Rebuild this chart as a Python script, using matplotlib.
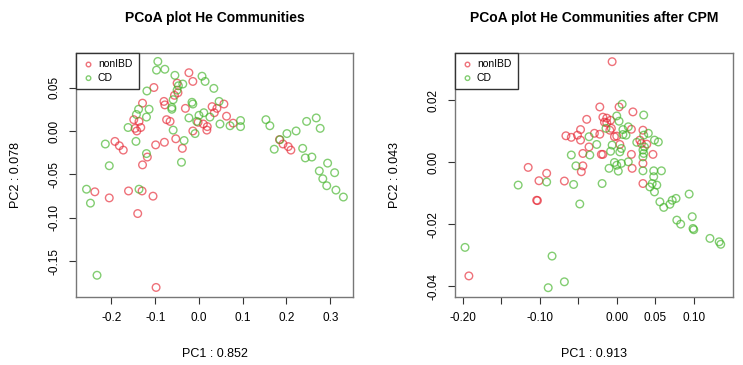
import numpy as np
import matplotlib.pyplot as plt

plt.rcParams['font.family'] = ['Liberation Sans', 'DejaVu Sans']

# PCoA coordinates, raw abundances
raw_nonibd_x = [-0.023, -0.014, -0.050, -0.103, -0.048, -0.056, -0.129, -0.080, -0.078, -0.031,
                -0.149, -0.137, -0.074, -0.066, 0.030, 0.041, 0.057, 0.035, 0.063, 0.078,
                -0.002, 0.010, 0.019, 0.018, -0.146, -0.133, -0.142, -0.014, -0.192, -0.182,
                -0.173, -0.099, -0.079, -0.053, -0.038, -0.118, -0.129, -0.238, -0.205, -0.161,
                -0.130, -0.105, -0.140, -0.098, 0.184, 0.192, 0.204, 0.210]
raw_nonibd_y = [0.067, 0.057, 0.055, 0.050, 0.044, 0.041, 0.032, 0.034, 0.030, 0.026,
                0.013, 0.011, 0.013, 0.011, 0.028, 0.026, 0.031, 0.021, 0.017, 0.009,
                0.010, 0.008, 0.005, 0.001, 0.003, 0.004, 0.000, 0.000, -0.012, -0.017,
                -0.022, -0.016, -0.013, -0.009, -0.020, -0.030, -0.039, -0.070, -0.077, -0.069,
                -0.069, -0.075, -0.095, -0.180, -0.010, -0.015, -0.018, -0.022]

raw_cd_x = [-0.094, -0.097, -0.078, -0.055, 0.007, 0.014, -0.037, 0.034, -0.119, -0.050,
            -0.059, -0.016, -0.138, -0.114, -0.062, -0.120, -0.143, -0.023, 0.011, 0.025,
            -0.005, -0.162, -0.059, -0.009, -0.214, -0.144, -0.034, -0.120, -0.205, -0.040,
            0.046, 0.048, 0.071, 0.095, 0.095, -0.014, -0.062, -0.047, -0.257, -0.248,
            -0.137, -0.233, 0.153, 0.162, 0.201, 0.222, 0.172, 0.246, 0.268, 0.277,
            0.237, 0.243, 0.258, 0.294, 0.275, 0.310, 0.283, 0.292, 0.313, 0.330,
            0.185, 0.000]
raw_cd_y = [0.080, 0.070, 0.071, 0.064, 0.063, 0.057, 0.054, 0.049, 0.046, 0.047,
            0.036, 0.033, 0.025, 0.025, 0.025, 0.016, 0.019, 0.015, 0.021, 0.016,
            0.011, 0.004, 0.001, -0.003, -0.015, -0.012, -0.011, -0.026, -0.040, -0.036,
            0.034, 0.008, 0.006, 0.012, 0.005, 0.031, 0.027, 0.052, -0.067, -0.083,
            -0.067, -0.166, 0.013, 0.006, -0.003, 0.000, -0.021, 0.011, 0.015, 0.003,
            -0.020, -0.031, -0.030, -0.037, -0.046, -0.048, -0.055, -0.063, -0.068, -0.076,
            -0.010, 0.018]

# PCoA coordinates after CPM normalisation
cpm_nonibd_x = [-0.006, -0.022, 0.003, 0.021, -0.039, -0.018, -0.013, -0.008, -0.016, -0.047,
                -0.066, -0.059, -0.051, -0.047, -0.036, -0.044, -0.115, -0.044, -0.046, -0.091,
                -0.101, -0.068, -0.104, -0.103, -0.192, -0.029, -0.022, -0.009, 0.019, -0.003,
                0.004, -0.020, 0.019, 0.034, 0.030, 0.032, 0.039, 0.047, 0.034, -0.013,
                -0.007, 0.000, -0.018, 0.020, 0.034]
cpm_nonibd_y = [0.0324, 0.0178, 0.0178, 0.0162, 0.0138, 0.0145, 0.0142, 0.0135, 0.0129, 0.0105,
                0.0085, 0.0080, 0.0087, 0.0071, 0.0049, 0.0028, -0.0017, -0.0012, -0.0031, -0.0036,
                -0.0060, -0.0061, -0.0123, -0.0124, -0.0367, 0.0093, 0.0090, 0.0103, 0.0106, 0.0082,
                0.0057, 0.0025, 0.0025, 0.0103, 0.0071, 0.0060, 0.0058, 0.0025, -0.0004, 0.0127,
                0.0109, 0.0084, 0.0025, -0.0020, -0.0069]

cpm_cd_x = [0.007, 0.035, 0.000, 0.003, -0.036, -0.059, -0.053, -0.091, -0.128, -0.056,
            -0.048, -0.197, -0.084, -0.068, -0.089, -0.014, 0.015, 0.008, -0.006, -0.008,
            0.004, -0.026, -0.035, 0.035, 0.041, 0.026, 0.036, 0.035, 0.049, 0.015,
            0.006, -0.003, 0.008, 0.012, 0.054, 0.006, 0.034, 0.034, -0.010, 0.000,
            0.002, 0.034, 0.048, 0.058, 0.048, 0.046, 0.052, 0.043, 0.049, -0.019,
            0.056, 0.061, 0.069, 0.072, 0.077, 0.094, 0.078, 0.083, 0.098, 0.099,
            0.100, 0.121, 0.133, 0.135]
cpm_cd_y = [0.0187, 0.0152, 0.0149, 0.0132, 0.0082, 0.0023, -0.0012, -0.0064, -0.0074, -0.0072,
            -0.0135, -0.0275, -0.0303, -0.0386, -0.0405, 0.0109, 0.0114, 0.0089, 0.0055, 0.0035,
            0.0033, 0.0057, 0.0023, 0.0087, 0.0093, 0.0064, 0.0049, 0.0028, 0.0071, 0.0001,
            -0.0004, -0.0001, 0.0105, 0.0087, 0.0065, 0.0044, 0.0039, 0.0017, -0.0020, -0.0010,
            -0.0029, -0.0028, -0.0028, -0.0028, -0.0047, -0.0069, -0.0074, -0.0080, -0.0096, -0.0069,
            -0.0128, -0.0146, -0.0136, -0.0123, -0.0117, -0.0103, -0.0187, -0.0200, -0.0176, -0.0214,
            -0.0218, -0.0246, -0.0257, -0.0265]

panels = [
    dict(title="PCoA plot He Communities", xlabel="PC1 : 0.852", ylabel="PC2 : 0.078",
         nx=raw_nonibd_x, ny=raw_nonibd_y, cx=raw_cd_x, cy=raw_cd_y,
         xlim=(-0.281, 0.352), ylim=(-0.191, 0.0897),
         xticks=[-0.2, -0.1, 0.0, 0.1, 0.2, 0.3], xlabels=["-0.2", "-0.1", "0.0", "0.1", "0.2", "0.3"],
         yticks=[-0.15, -0.10, -0.05, 0.00, 0.05], ylabels=["-0.15", "-0.10", "-0.05", "0.00", "0.05"]),
    dict(title="PCoA plot He Communities after CPM", xlabel="PC1 : 0.913", ylabel="PC2 : 0.043",
         nx=cpm_nonibd_x, ny=cpm_nonibd_y, cx=cpm_cd_x, cy=cpm_cd_y,
         xlim=(-0.210, 0.151), ylim=(-0.0435, 0.0352),
         xticks=[-0.20, -0.15, -0.10, -0.05, 0.00, 0.05, 0.10],
         xlabels=["-0.20", "", "-0.10", "", "0.00", "0.05", "0.10"],
         yticks=[-0.04, -0.02, 0.00, 0.02], ylabels=["-0.04", "-0.02", "0.00", "0.02"]),
]

red = (0.9, 0.15, 0.2, 0.65)
green = (0.25, 0.7, 0.15, 0.65)

fig = plt.figure(figsize=(7.43, 3.65), dpi=100)
boxes = [[0.1023, 0.1863, 0.3728, 0.6685], [0.6124, 0.1863, 0.3742, 0.6685]]

for box, p in zip(boxes, panels):
    ax = fig.add_axes(box)
    ax.scatter(p["nx"], p["ny"], s=30, facecolors="none", edgecolors=[red], linewidths=1.0, label="nonIBD")
    ax.scatter(p["cx"], p["cy"], s=30, facecolors="none", edgecolors=[green], linewidths=1.0, label="CD")
    ax.set_xlim(*p["xlim"])
    ax.set_ylim(*p["ylim"])
    ax.set_xticks(p["xticks"])
    ax.set_xticklabels(p["xlabels"])
    ax.set_yticks(p["yticks"])
    ax.set_yticklabels(p["ylabels"], rotation=90, va="center")
    ax.tick_params(direction="out", length=5, width=0.8, labelsize=8.5, pad=6, color="#333333")
    for s in ax.spines.values():
        s.set_color("#777777")
        s.set_linewidth(1.0)
    ax.text(0.5, 1.0 + 35 / 244, p["title"], transform=ax.transAxes, ha="center", va="center",
            fontsize=10, fontweight="bold")
    ax.set_xlabel(p["xlabel"], fontsize=9, labelpad=17)
    ax.set_ylabel(p["ylabel"], fontsize=9, labelpad=19)
    leg = ax.legend(loc="upper left", borderaxespad=0, fancybox=False, edgecolor="#333333",
                    framealpha=1, fontsize=7.5, handletextpad=0.3, markerscale=0.6,
                    borderpad=0.6, labelspacing=0.35, handlelength=1.2)
    leg.get_frame().set_linewidth(1.0)

fig.savefig("out.png", dpi=100)
